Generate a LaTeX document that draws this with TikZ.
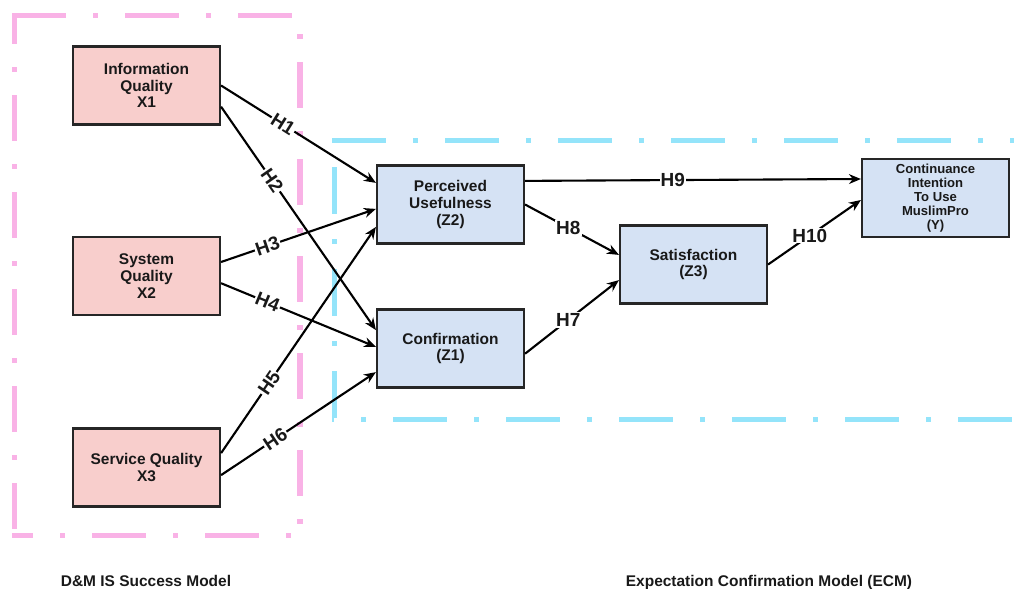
\documentclass[tikz,border=0pt]{standalone}
\usepackage{fontspec}
\setmainfont{Liberation Sans}
\usetikzlibrary{arrows.meta,shadows}

\definecolor{dmpink}{RGB}{249,178,230}
\definecolor{ecmcyan}{RGB}{148,228,250}
\definecolor{dmfill}{RGB}{248,206,204}
\definecolor{ecmfill}{RGB}{213,226,244}

\tikzset{
	varbox/.style={draw=black!85, line width=1.5pt, minimum width=3.675cm, minimum height=1.95cm,
		align=center, inner sep=1pt, text=black!90, font=\fontsize{11}{12}\selectfont\bfseries,
		drop shadow={shadow xshift=1pt, shadow yshift=-1pt, opacity=0.3}},
	dmbox/.style={varbox, fill=dmfill},
	ecmbox/.style={varbox, fill=ecmfill},
	hyparrow/.style={line width=1.5pt, black, -{Stealth[length=8.5pt,width=7pt]}},
	hyp/.style={fill=white, inner sep=0.8pt, text=black!90, font=\fontsize{13.5}{14}\selectfont\bfseries},
	dmline/.style={dmpink, line width=3.56pt},
	ecmline/.style={ecmcyan, line width=3.56pt},
	hdash/.style={dash pattern=on 38.41pt off 19.21pt on 3.56pt off 19.21pt},
	pvdash/.style={dash pattern=on 32.72pt off 16.36pt on 3.56pt off 16.36pt},
	cvdash/.style={dash pattern=on 33.43pt off 17.78pt on 3.56pt off 17.78pt},
	modelname/.style={anchor=base, text=black!90, font=\fontsize{11}{12}\selectfont\bfseries}
}

\begin{document}
\begin{tikzpicture}[x=0.025cm, y=-0.025cm]
	\useasboundingbox (0,0) rectangle (1014,588);

	% D&M IS success model frame
	\draw [dmline, hdash] (12,15.5) -- (302.5,15.5);
	\draw [dmline, hdash, dash phase=23.47pt] (12,535.5) -- (302.5,535.5);
	\draw [dmline, pvdash, dash phase=10.67pt] (14.5,13) -- (14.5,538);
	\draw [dmline, pvdash, dash phase=34.14pt] (300,13) -- (300,538);
	% ECM frame
	\draw [ecmline, hdash] (332,140.5) -- (1014,140.5);
	\draw [ecmline, hdash, dash phase=36.99pt] (332,419.5) -- (1014,419.5);
	\draw [ecmline, cvdash, dash phase=51.92pt] (334.5,138) -- (334.5,422);

	\node[dmbox] (infoq) at (146.5,85.5) {Information\\Quality\\X1};
	\node[dmbox] (sysq) at (146.5,276) {System\\Quality\\X2};
	\node[dmbox] (servq) at (146.5,467.5) {Service Quality\\X3};
	\node[ecmbox] (useful) at (450.5,204.5) {Perceived\\Usefulness\\(Z2)};
	\node[ecmbox] (confirm) at (450.5,348.5) {Confirmation\\(Z1)};
	\node[ecmbox] (satisf) at (693.5,264.5) {Satisfaction\\(Z3)};
	\node[ecmbox, font=\fontsize{9.3}{10}\selectfont\bfseries] (intent) at (935.5,198) {Continuance\\Intention\\To Use\\MuslimPro\\(Y)};

	\draw [hyparrow] (infoq.east) -- node[hyp, sloped, pos=0.4] {H1} ([yshift=0.54cm]useful.west);
	\draw [hyparrow] ([yshift=-0.53cm]infoq.east) -- node[hyp, sloped, pos=0.33] {H2} ([yshift=0.46cm]confirm.west);
	\draw [hyparrow] ([yshift=0.35cm]sysq.east) -- node[hyp, sloped, pos=0.3] {H3} ([yshift=-0.11cm]useful.west);
	\draw [hyparrow] ([yshift=-0.18cm]sysq.east) -- node[hyp, sloped, pos=0.3] {H4} ([yshift=0.04cm]confirm.west);
	\draw [hyparrow] ([yshift=0.36cm]servq.east) -- node[hyp, sloped, pos=0.31] {H5} ([yshift=-0.56cm]useful.west);
	\draw [hyparrow] ([yshift=-0.19cm]servq.east) -- node[hyp, sloped, pos=0.35] {H6} ([yshift=-0.59cm]confirm.west);
	\draw [hyparrow] ([yshift=-0.13cm]confirm.east) -- node[hyp, pos=0.46] {H7} ([yshift=-0.39cm]satisf.west);
	\draw [hyparrow] (useful.east) -- node[hyp, pos=0.46] {H8} ([yshift=0.24cm]satisf.west);
	\draw [hyparrow] ([yshift=0.59cm]useful.east) -- node[hyp, pos=0.44] {H9} ([yshift=0.475cm]intent.west);
	\draw [hyparrow] (satisf.east) -- node[hyp, pos=0.45] {H10} ([yshift=-0.05cm]intent.west);

	\node[modelname] (dmname) at (146,586) {D\&M IS Success Model};
	\node[modelname] (ecmname) at (769,586) {Expectation Confirmation Model (ECM)};
\end{tikzpicture}
\end{document}
